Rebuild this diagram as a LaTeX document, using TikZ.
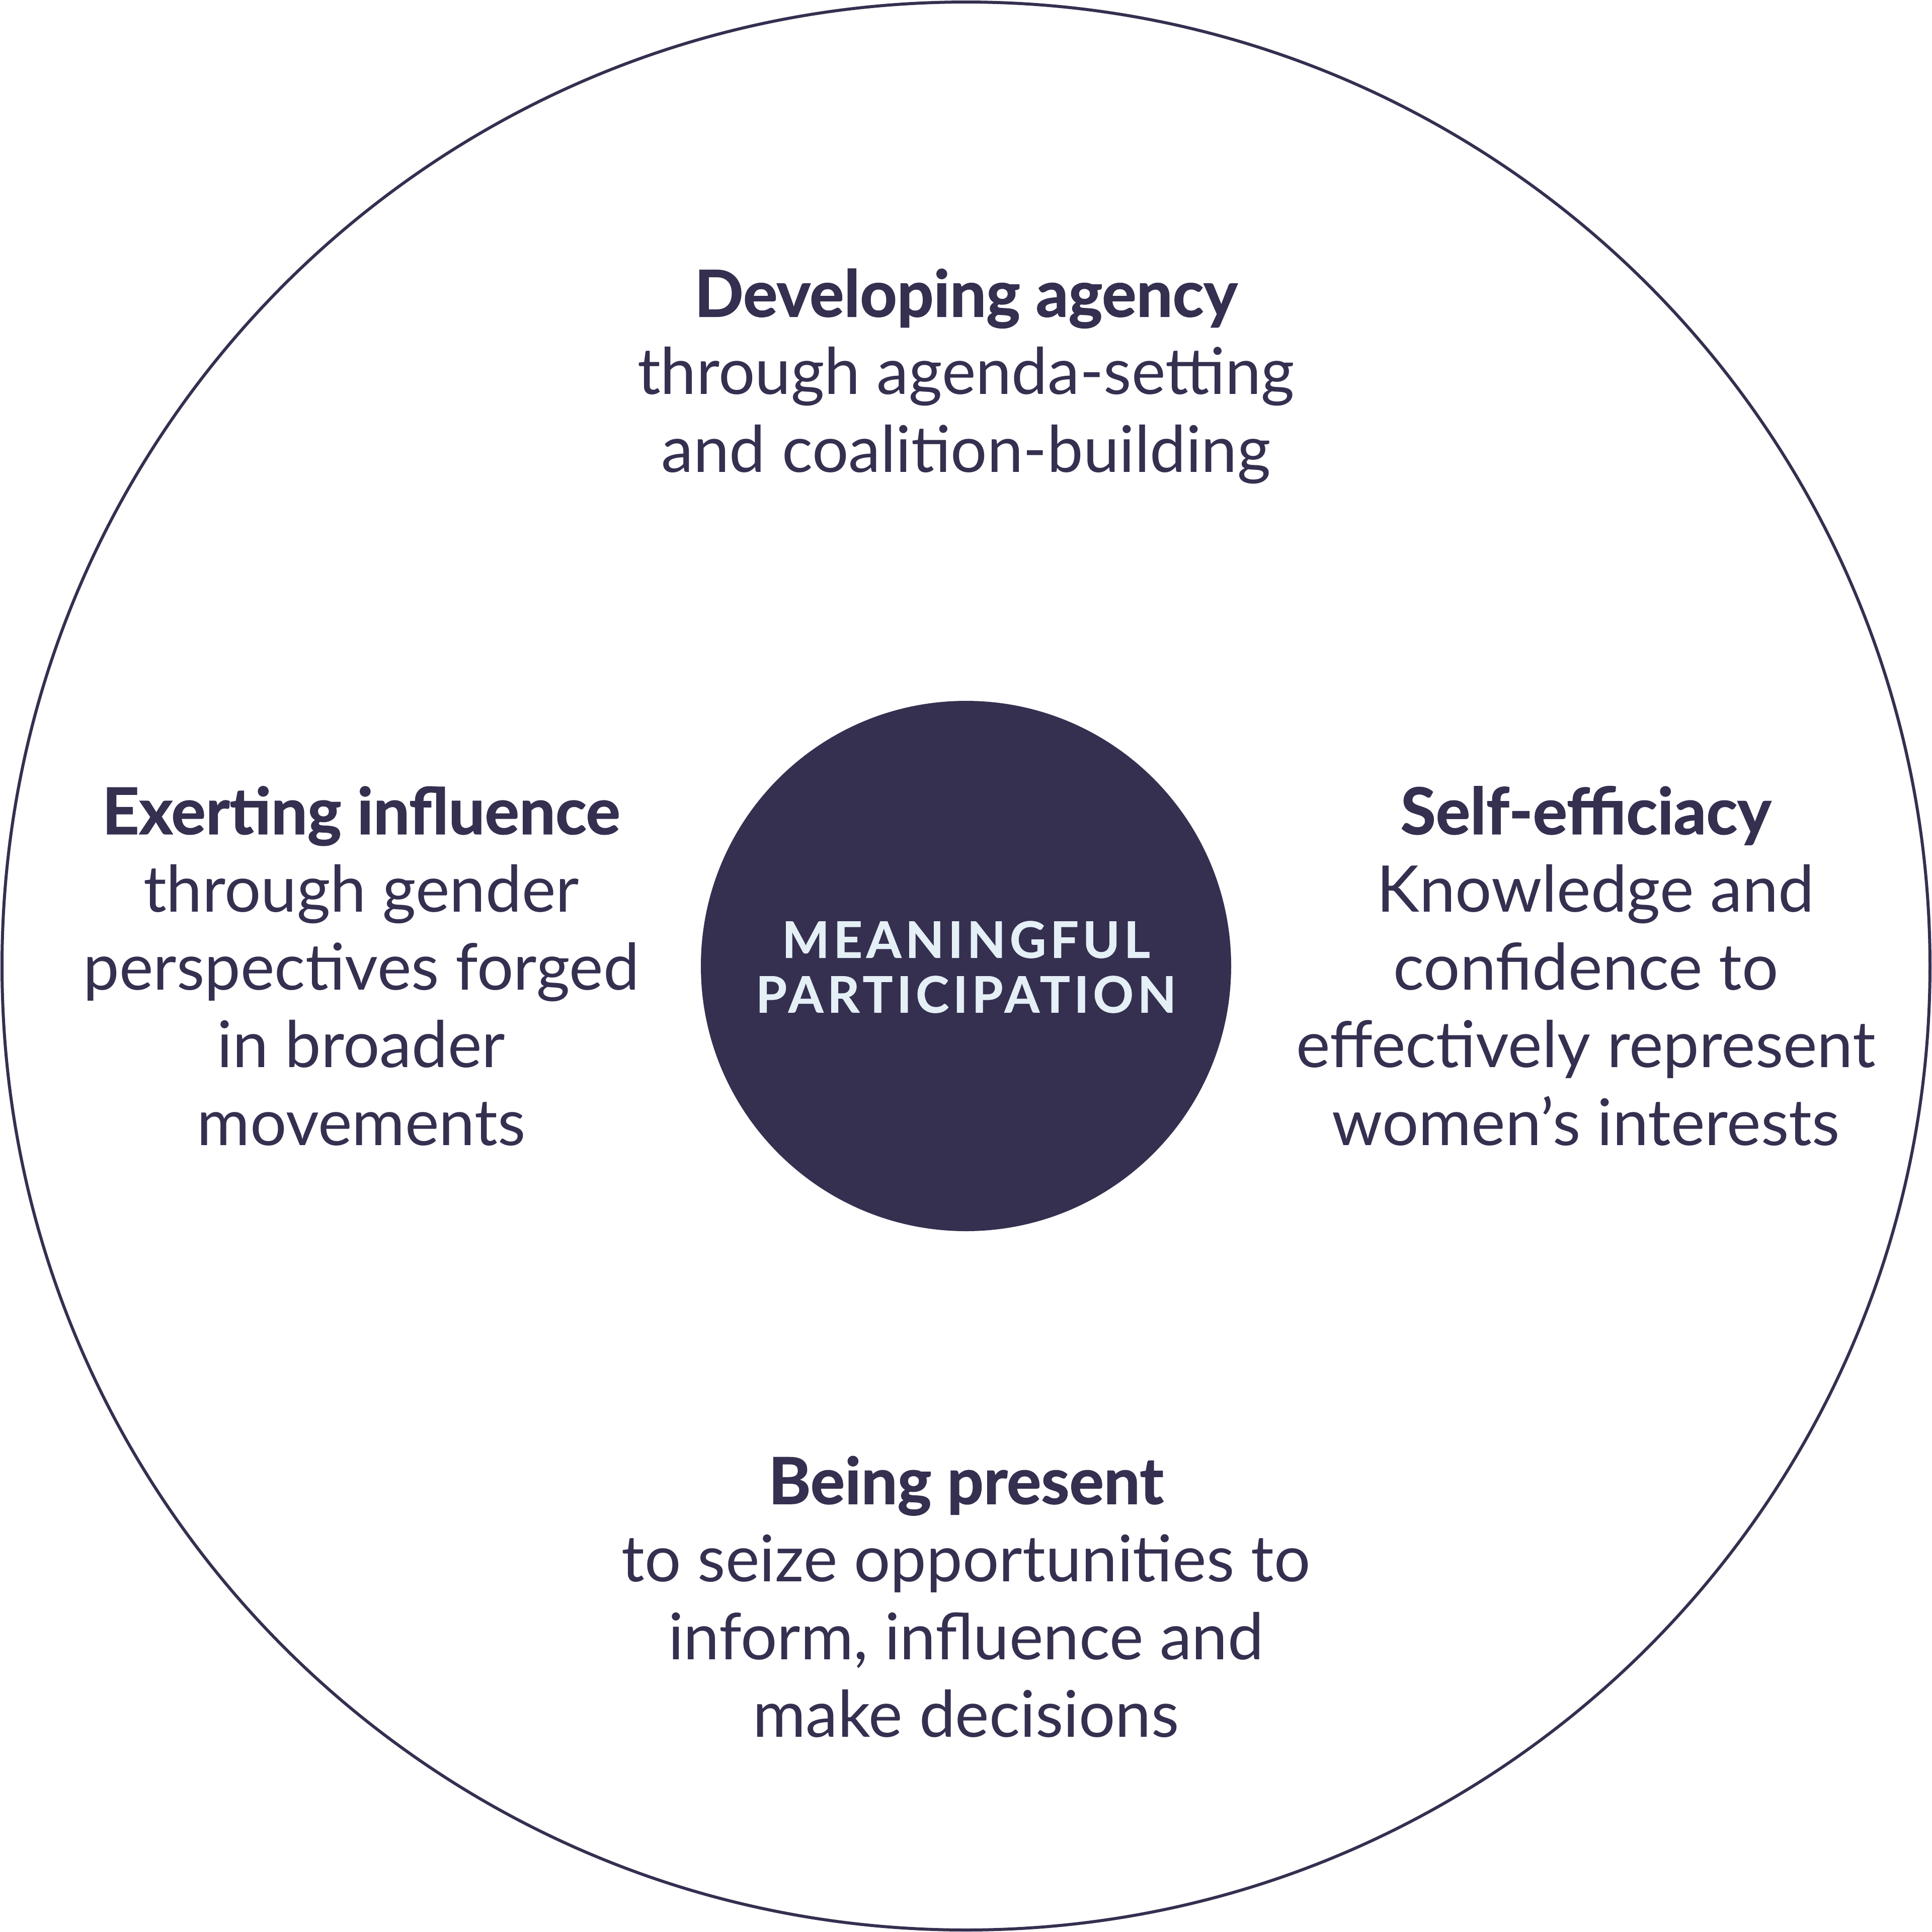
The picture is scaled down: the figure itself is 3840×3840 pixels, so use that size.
\documentclass[tikz,border=0pt]{standalone}
\usepackage{fontspec}
\setmainfont{Lato}[BoldFeatures={FakeBold=1.2}]
\newfontfamily\spacedfont[LetterSpace=8,BoldFeatures={FakeBold=0.8}]{Lato}
\definecolor{navy}{HTML}{352F50}
\definecolor{pale}{HTML}{E4EFF6}
\tikzset{
  block/.style={text=navy, align=center, inner sep=0pt, font=\fontsize{36.4}{44}\selectfont},
}
\begin{document}
\begin{tikzpicture}[x=0.1mm,y=-0.1mm]
\useasboundingbox (0,0) rectangle (3840,3840);
\node (outer) [circle, draw=navy, line width=0.6mm, minimum size=383.2mm, inner sep=0pt] at (1920,1920) {};
\node (core) [circle, fill=navy, minimum size=105.4mm, inner sep=0pt] at (1920,1920) {};
\node (coretext) [text=pale, align=center, inner sep=0pt, font=\spacedfont\bfseries\fontsize{28.4}{31}\selectfont] at (1920,1922) {MEANINGFUL\\PARTICIPATION};
\node (top) [block] at (1920,748) {\textbf{Developing agency}\\through agenda-setting\\and coalition-building};
\node (left) [block] at (718,1920) {\textbf{Exerting influence}\\through gender\\perspectives forged\\in broader\\movements};
\node (right) [block] at (3152,1920) {\textbf{Self-efficiacy}\\\hspace*{0.3em}Knowledge and\\confidence to\\effectively represent\\women’s interests};
\node (bottom) [block] at (1920,3174) {\textbf{Being present}\\to seize opportunities to\\inform, influence and\\make decisions};
\end{tikzpicture}
\end{document}
